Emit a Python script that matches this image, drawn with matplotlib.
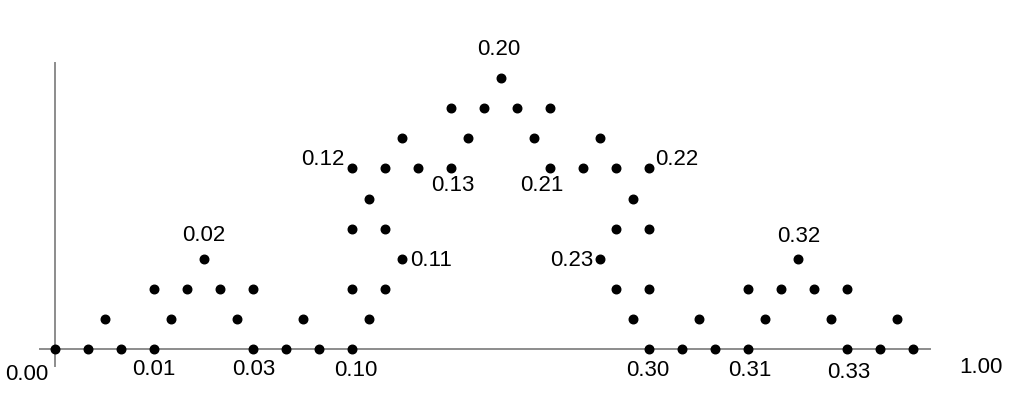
import matplotlib
matplotlib.use("Agg")
import matplotlib.pyplot as plt

plt.rcParams['font.family'] = ['Liberation Sans', 'DejaVu Sans']

# points: position along the line (grid steps) and height level
pt_x = [0, 1, 2, 3, 6, 7, 8, 9, 18, 19, 20, 21, 24, 25, 26,
        1.5, 3.5, 5.5, 7.5, 9.5, 17.5, 19.5, 21.5, 23.5, 25.5,
        3, 4, 5, 6, 9, 10, 17, 18, 21, 22, 23, 24,
        4.5, 10.5, 16.5, 22.5,
        9, 10, 17, 18,
        9.5, 17.5,
        9, 10, 11, 12, 15, 16, 17, 18,
        10.5, 12.5, 14.5, 16.5,
        12, 13, 14, 15,
        13.5]
pt_lvl = [0] * 15 + [1] * 10 + [2] * 12 + [3] * 4 + [4] * 4 + [5] * 2 + [6] * 8 + [7] * 4 + [8] * 4 + [9]

# labels: text, anchor x, anchor level, offset in pixels
lab_text = ["0.00", "0.01", "0.03", "0.10", "0.30", "0.31", "0.33", "1.00",
            "0.02", "0.32", "0.20", "0.13", "0.21", "0.11", "0.23", "0.12", "0.22"]
lab_x = [0, 3, 6, 9, 18, 21, 24, 28, 4.5, 22.5, 13.5, 12, 15, 10.5, 16.5, 9, 18]
lab_lvl = [0, 0, 0, 0, 0, 0, 0, 0, 3, 3, 9, 6, 6, 3, 3, 6, 6]
lab_dx = [-28, 0, 1, 4, -1, 2, 2, 2, 0, 1, -2, 2, -8, 30, -28, -29, 28]
lab_dy = [-25, -20, -20, -21, -21, -21, -23, -18, 24, 23, 30, -16, -16, -1, -1, 10, 10]

fig = plt.figure(figsize=(10.1, 4.02), dpi=100)
ax = fig.add_axes([0, 0, 1, 1])
ax.set_xlim(-55 / 33, (1010 - 55) / 33)
ax.set_ylim((350 - 402) / 30.1, 350 / 30.1)
ax.axis('off')

# axis lines
ax.plot([-0.45, 26.5], [0, 0], color='#8c8c8c', lw=1.4, zorder=1)
ax.plot([0, 0], [-0.55, 9.5], color='#8c8c8c', lw=1.4, zorder=1)

ax.scatter(pt_x, pt_lvl, s=38, color='black', zorder=3)

for t, x, y, dx, dy in zip(lab_text, lab_x, lab_lvl, lab_dx, lab_dy):
    ax.annotate(t, (x, y), xytext=(dx, dy), textcoords='offset pixels',
                ha='center', va='center', fontsize=16)

fig.savefig("out.png", dpi=100)
